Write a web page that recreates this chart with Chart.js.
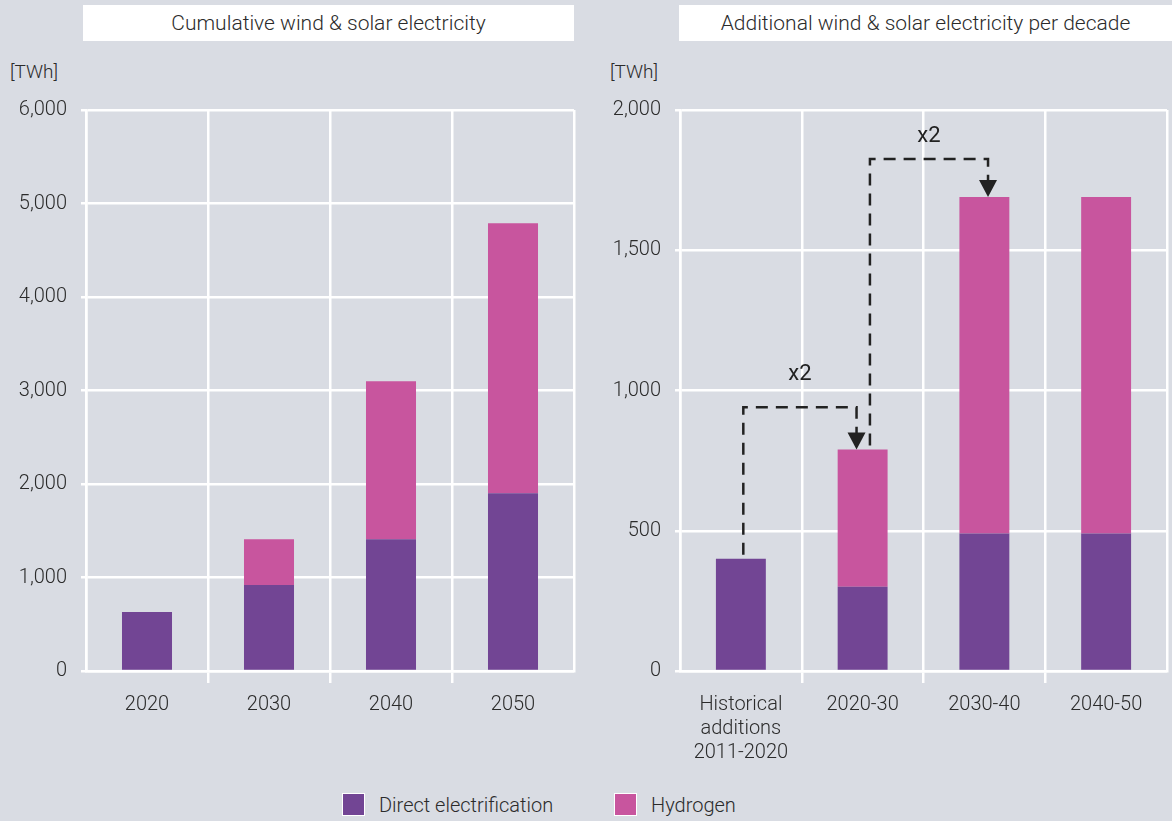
<!DOCTYPE html>
<html>
<head>
<meta charset="utf-8">
<script src="https://cdn.jsdelivr.net/npm/chart.js@4"></script>
<style>
  body { margin: 0; background: #d9dce3; font-family: Roboto, sans-serif; font-weight: 300; color: #2b2b2b; }
  #wrap { position: relative; width: 1172px; height: 821px; overflow: hidden; }
  canvas { position: absolute; top: 0; }
  .box { position: absolute; top: 5px; height: 36px; line-height: 36px; background: #fff; font-size: 21px; text-align: center; }
  .unit { position: absolute; top: 60px; font-size: 19px; }
  .legend-item { position: absolute; top: 793px; height: 24px; line-height: 24px; font-size: 20px; }
  .legend-item span { display: inline-block; width: 21px; height: 21px; border: 1.5px solid #fff; vertical-align: -4px; margin-right: 14px; }
</style>
</head>
<body>
<div id="wrap">
  <div class="box" style="left:83px; width:491px;">Cumulative wind &amp; solar electricity</div>
  <div class="box" style="left:679px; width:493px;">Additional wind &amp; solar electricity per decade</div>
  <div class="unit" style="left:10px;">[TWh]</div>
  <div class="unit" style="left:610px;">[TWh]</div>
  <canvas id="cumChart" width="590" height="760" style="left:0"></canvas>
  <canvas id="decChart" width="582" height="760" style="left:590px"></canvas>
  <div id="legend"></div>
</div>
<script>
  // colores
  const purple = '#724594';
  const pink = '#c8559e';
  const textColor = '#2b2b2b';
  const gridColor = '#ffffff';

  // datos - acumulado
  const cumYears = ['2020', '2030', '2040', '2050'];
  const cumDirect = [630, 920, 1410, 1900];
  const cumHydrogen = [0, 490, 1690, 2890];
  const cumMax = 6000;
  const cumStep = 1000;

  // datos - por década
  const decades = [['Historical', 'additions', '2011-2020'], '2020-30', '2030-40', '2040-50'];
  const decDirect = [400, 300, 490, 490];
  const decHydrogen = [0, 490, 1200, 1200];
  const decMax = 2000;
  const decStep = 500;

  const seriesNames = ['Direct electrification', 'Hydrogen'];
  const seriesColors = [purple, pink];

  const decTotals = decDirect.map((v, i) => v + decHydrogen[i]);

  const tickFont = { family: 'Roboto', size: 20, weight: 300, lineHeight: 1.2 };

  // flechas "x2" (dibujadas con las escalas del gráfico)
  const growthArrows = {
    id: 'growthArrows',
    afterDatasetsDraw(chart, args, opts) {
      if (!opts.items) return;
      const { ctx, scales: { x, y } } = chart;
      const cat = x.getPixelForValue(1) - x.getPixelForValue(0);
      ctx.save();
      opts.items.forEach(a => {
        const x0 = x.getPixelForValue(a.from) + a.fromShift * cat;
        const x1 = x.getPixelForValue(a.to) + a.toShift * cat;
        const y0 = y.getPixelForValue(decTotals[a.from]) - 4;
        const y1 = y.getPixelForValue(decTotals[a.to]);
        const yTop = y.getPixelForValue(a.peak);
        ctx.strokeStyle = '#222';
        ctx.fillStyle = '#222';
        ctx.lineWidth = 2.5;
        ctx.setLineDash([12, 8]);
        ctx.beginPath();
        ctx.moveTo(x0, y0);
        ctx.lineTo(x0, yTop);
        ctx.lineTo(x1, yTop);
        ctx.lineTo(x1, y1 - 16);
        ctx.stroke();
        ctx.setLineDash([]);
        ctx.beginPath();
        ctx.moveTo(x1 - 9, y1 - 17);
        ctx.lineTo(x1 + 9, y1 - 17);
        ctx.lineTo(x1, y1);
        ctx.closePath();
        ctx.fill();
        ctx.font = '400 22px Roboto';
        ctx.textAlign = 'center';
        ctx.textBaseline = 'middle';
        ctx.fillText(a.label, (x0 + x1) / 2, y.getPixelForValue(a.labelAt));
      });
      ctx.restore();
    }
  };

  function makeOptions(max, step, yWidth, padRight, arrows) {
    return {
      responsive: false,
      animation: false,
      layout: { padding: { top: 110, right: padRight, left: 0, bottom: 0 } },
      plugins: {
        legend: { display: false },
        tooltip: { enabled: false },
        growthArrows: { items: arrows }
      },
      scales: {
        x: {
          stacked: true,
          afterFit: s => { s.height = 89; },
          grid: {
            color: gridColor,
            lineWidth: 2.5,
            tickLength: 12,
            tickColor: c => (c.type === 'tick' && c.index > 0 ? gridColor : 'rgba(0,0,0,0)')
          },
          border: { color: gridColor, width: 2.5 },
          ticks: { color: textColor, font: tickFont, padding: 10, maxRotation: 0 }
        },
        y: {
          stacked: true,
          min: 0,
          max: max,
          afterFit: s => { s.width = yWidth; },
          grid: { color: gridColor, lineWidth: 2.5, tickLength: 5 },
          border: { color: gridColor, width: 2.5 },
          ticks: {
            stepSize: step,
            color: textColor,
            padding: 14,
            font: tickFont,
            callback: v => v.toLocaleString('en-US')
          }
        }
      }
    };
  }

  function makeDatasets(direct, hydrogen) {
    return [direct, hydrogen].map((d, i) => ({
      label: seriesNames[i],
      data: d,
      backgroundColor: seriesColors[i],
      borderWidth: 0,
      categoryPercentage: 1,
      barPercentage: 0.41
    }));
  }

  // Gráfica acumulada
  new Chart(document.getElementById('cumChart'), {
    type: 'bar',
    data: { labels: cumYears, datasets: makeDatasets(cumDirect, cumHydrogen) },
    options: makeOptions(cumMax, cumStep, 86, 16, null),
    plugins: [growthArrows]
  });

  // Gráfica por década
  new Chart(document.getElementById('decChart'), {
    type: 'bar',
    data: { labels: decades, datasets: makeDatasets(decDirect, decHydrogen) },
    options: makeOptions(decMax, decStep, 90, 5, [
      { from: 0, fromShift: 0.02, to: 1, toShift: -0.05, peak: 940, labelAt: 1056, label: 'x2' },
      { from: 1, fromShift: 0.06, to: 2, toShift: 0.03, peak: 1825, labelAt: 1905, label: 'x2' }
    ]),
    plugins: [growthArrows]
  });

  // Leyenda
  const legendX = [342, 614];
  const legend = document.getElementById('legend');
  seriesNames.forEach((name, i) => {
    const item = document.createElement('div');
    item.className = 'legend-item';
    item.style.left = legendX[i] + 'px';
    const sw = document.createElement('span');
    sw.style.background = seriesColors[i];
    item.appendChild(sw);
    item.appendChild(document.createTextNode(name));
    legend.appendChild(item);
  });
</script>
</body>
</html>
